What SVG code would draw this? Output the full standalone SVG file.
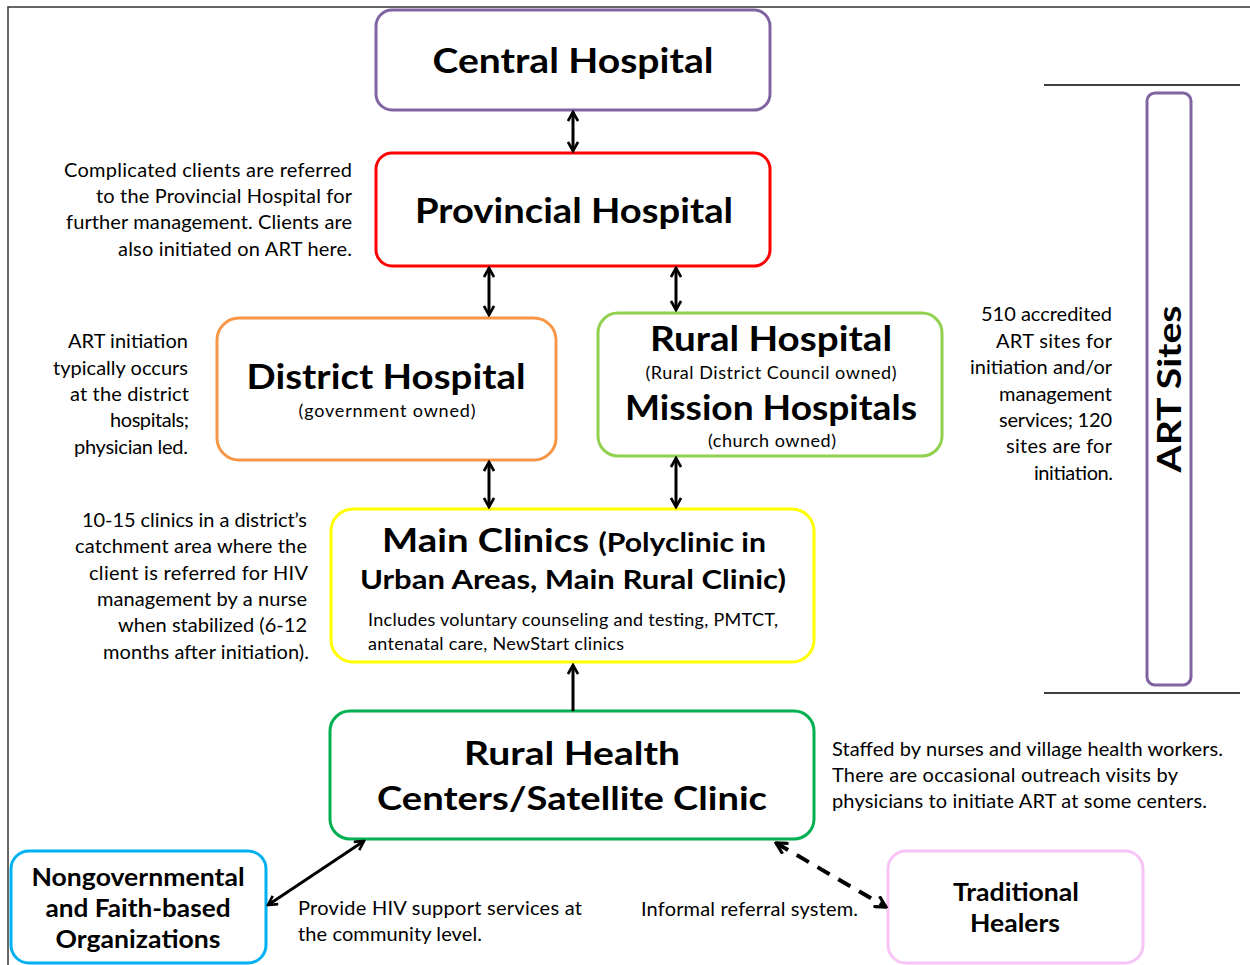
<svg xmlns="http://www.w3.org/2000/svg" width="1250" height="965" viewBox="0 0 1250 965">
<defs>
<marker id="ah" viewBox="0 0 12 12" refX="10" refY="6" markerWidth="12" markerHeight="12" markerUnits="userSpaceOnUse" orient="auto-start-reverse">
<path d="M1,1 L10,6 L1,11" fill="none" stroke="#000" stroke-width="2.6"/>
</marker>
<marker id="ahd" viewBox="0 0 14 14" refX="12" refY="7" markerWidth="14" markerHeight="14" markerUnits="userSpaceOnUse" orient="auto-start-reverse">
<path d="M1,1 L12,7 L1,13" fill="none" stroke="#000" stroke-width="3.2"/>
</marker>
<style>
.box{fill:#fff;stroke-width:3}
.t{font-family:Lato,"Open Sans","Liberation Sans",sans-serif;fill:#000}
.h{font-weight:bold;text-anchor:middle}
.s{font-size:18px;text-anchor:middle}
.n{font-size:20px}
.r{text-anchor:end}
.c{stroke:#000;stroke-width:3;fill:none;marker-start:url(#ah);marker-end:url(#ah)}
.d{stroke:#000;stroke-width:4;fill:none;stroke-dasharray:14 10;marker-start:url(#ahd);marker-end:url(#ahd)}
</style>
</defs>
<rect width="1250" height="965" fill="#fff"/>
<g id="frame" stroke="#333" stroke-width="1.5" fill="none">
<path d="M8,965 V7 H1250"/>
<line x1="1044" y1="85" x2="1240" y2="85" stroke="#000"/>
<line x1="1044" y1="693" x2="1240" y2="693" stroke="#000"/>
</g>
<g id="central"><rect class="box" x="376" y="10" width="394" height="100" rx="16" stroke="#8064a2"/><text class="t h" x="573" y="73" font-size="35" textLength="281" lengthAdjust="spacingAndGlyphs">Central Hospital</text></g>
<g id="provincial"><rect class="box" x="376" y="153" width="394" height="113" rx="16" stroke="#ff0000"/><text class="t h" x="574" y="223" font-size="35" textLength="318" lengthAdjust="spacingAndGlyphs">Provincial Hospital</text></g>
<g id="district"><rect class="box" x="217" y="318" width="339" height="142" rx="22" stroke="#f79646"/><text class="t h" x="386" y="389" font-size="35" textLength="279" lengthAdjust="spacingAndGlyphs">District Hospital</text><text class="t s" x="387" y="417" textLength="177">(government  owned)</text></g>
<g id="rural"><rect class="box" x="598" y="313" width="344" height="143" rx="20" stroke="#92d050"/><text class="t h" x="771" y="351" font-size="35" textLength="242" lengthAdjust="spacingAndGlyphs">Rural Hospital</text><text class="t s" x="771" y="379" textLength="251">(Rural District Council owned)</text><text class="t h" x="771" y="420" font-size="35" textLength="292" lengthAdjust="spacingAndGlyphs">Mission Hospitals</text><text class="t s" x="772" y="447" textLength="128">(church owned)</text></g>
<g id="main"><rect class="box" x="331" y="509" width="483" height="153" rx="22" stroke="#ffff00"/><text class="t h" x="574" y="552" textLength="384" lengthAdjust="spacingAndGlyphs"><tspan font-size="33">Main Clinics </tspan><tspan font-size="26">(Polyclinic in</tspan></text><text class="t h" x="573" y="589" font-size="26" textLength="426" lengthAdjust="spacingAndGlyphs">Urban Areas, Main Rural Clinic)</text><text class="t" x="368" y="626" font-size="18" textLength="410">Includes voluntary counseling and testing, PMTCT,</text><text class="t" x="368" y="650" font-size="18" textLength="256">antenatal care, NewStart clinics</text></g>
<g id="rhc"><rect class="box" x="330" y="711" width="484" height="128" rx="20" stroke="#00b050"/><text class="t h" x="572" y="765" font-size="33" textLength="216" lengthAdjust="spacingAndGlyphs">Rural Health</text><text class="t h" x="572" y="810" font-size="33" textLength="390" lengthAdjust="spacingAndGlyphs">Centers/Satellite Clinic</text></g>
<g id="ngo"><rect class="box" x="11" y="851" width="255" height="112" rx="18" stroke="#00b0f0"/><text class="t h" x="138" y="886" font-size="24" textLength="213" lengthAdjust="spacingAndGlyphs">Nongovernmental</text><text class="t h" x="138" y="917" font-size="24" textLength="185" lengthAdjust="spacingAndGlyphs">and Faith-based</text><text class="t h" x="138" y="948" font-size="24" textLength="165" lengthAdjust="spacingAndGlyphs">Organizations</text></g>
<g id="healers"><rect class="box" x="888" y="851" width="255" height="112" rx="18" stroke="#f6c4f6"/><text class="t h" x="1016" y="901" font-size="24" textLength="126" lengthAdjust="spacingAndGlyphs">Traditional</text><text class="t h" x="1015" y="932" font-size="24" textLength="90" lengthAdjust="spacingAndGlyphs">Healers</text></g>
<g id="artsites"><rect class="box" x="1147" y="93" width="44" height="592" rx="8" stroke="#8064a2"/><text class="t h" transform="translate(1181,389) rotate(-90)" font-size="32" textLength="167" lengthAdjust="spacingAndGlyphs">ART Sites</text></g>
<g id="connectors">
<line class="c" x1="573" y1="112" x2="573" y2="151"/>
<line class="c" x1="489" y1="268" x2="489" y2="315"/>
<line class="c" x1="676" y1="268" x2="676" y2="310"/>
<line class="c" x1="489" y1="462" x2="489" y2="507"/>
<line class="c" x1="676" y1="458" x2="676" y2="507"/>
<line x1="573" y1="711" x2="573" y2="665" stroke="#000" stroke-width="3" marker-end="url(#ah)"/>
<line class="c" x1="268" y1="905" x2="364" y2="841"/>
<line class="d" x1="776" y1="843" x2="886" y2="907"/>
</g>
<g id="notes" class="t n">
<text class="r" x="352" y="177" textLength="288">Complicated clients are referred</text>
<text class="r" x="352" y="203" textLength="256">to the Provincial Hospital for</text>
<text class="r" x="352" y="229" textLength="286">further management. Clients are</text>
<text class="r" x="352" y="256" textLength="234">also initiated on ART here.</text>
<text class="r" x="188" y="348" textLength="120">ART initiation</text>
<text class="r" x="188" y="375" textLength="135">typically occurs</text>
<text class="r" x="189" y="401" textLength="119">at the district</text>
<text class="r" x="189" y="427" textLength="79">hospitals;</text>
<text class="r" x="188" y="454" textLength="114">physician led.</text>
<text class="r" x="307" y="527" textLength="225">10-15 clinics in a district’s</text>
<text class="r" x="307" y="553" textLength="232">catchment area where the</text>
<text class="r" x="308" y="580" textLength="219">client is referred for HIV</text>
<text class="r" x="307" y="606" textLength="210">management by a nurse</text>
<text class="r" x="307" y="632" textLength="189">when stabilized (6-12</text>
<text class="r" x="309" y="659" textLength="206">months after initiation).</text>
<text class="r" x="1112" y="321" textLength="131">510 accredited</text>
<text class="r" x="1112" y="348" textLength="116">ART sites for</text>
<text class="r" x="1112" y="374" textLength="142">initiation and/or</text>
<text class="r" x="1112" y="401" textLength="113">management</text>
<text class="r" x="1112" y="427" textLength="113">services; 120</text>
<text class="r" x="1112" y="453" textLength="106">sites are for</text>
<text class="r" x="1113" y="480" textLength="79">initiation.</text>
<text x="832" y="756" textLength="391">Staffed by nurses and village health workers.</text>
<text x="832" y="782" textLength="346">There are occasional outreach visits by</text>
<text x="832" y="808" textLength="375">physicians to initiate ART at some centers.</text>
<text x="298" y="915" textLength="284">Provide HIV support services at</text>
<text x="298" y="941" textLength="184">the community level.</text>
<text x="641" y="916" textLength="217">Informal referral system.</text>
</g>
</svg>
